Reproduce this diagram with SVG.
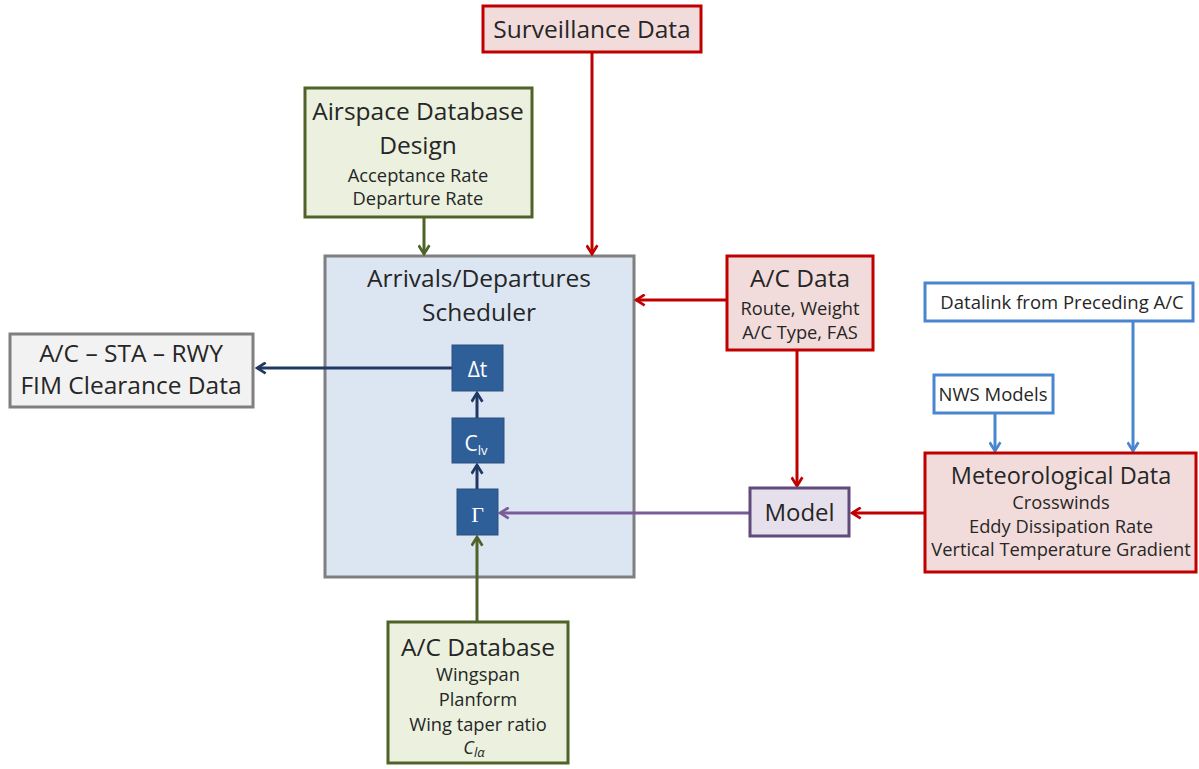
<svg xmlns="http://www.w3.org/2000/svg" width="1199" height="769" viewBox="0 0 1199 769">
<defs>
<style>
text{font-family:"Open Sans","Lato","Liberation Sans",sans-serif;fill:#262626;text-anchor:middle}
.big{font-size:24.5px}
.sm{font-size:18.3px}
.xs{font-size:18.5px}
.green{fill:#ebf1de;stroke:#4f6228;stroke-width:3}
.red{fill:#f2dcdb;stroke:#c00000;stroke-width:3}
.blue{fill:#ffffff;stroke:#4a86d0;stroke-width:3}
.gray{fill:#f2f2f2;stroke:#7f7f7f;stroke-width:3}
.sched{fill:#dce6f2;stroke:#7f7f7f;stroke-width:3}
.inner{fill:#2f5f98;stroke:#2a4f80;stroke-width:1}
.model{fill:#e6e0ec;stroke:#5f4a7b;stroke-width:3}
.c{fill:none;stroke-width:3}
</style>
<marker id="aR" viewBox="0 0 12 12" refX="10" refY="6" markerWidth="13" markerHeight="13" markerUnits="userSpaceOnUse" orient="auto"><path d="M2,1 L10,6 L2,11" fill="none" stroke="#c00000" stroke-width="2.5"/></marker>
<marker id="aG" viewBox="0 0 12 12" refX="10" refY="6" markerWidth="13" markerHeight="13" markerUnits="userSpaceOnUse" orient="auto"><path d="M2,1 L10,6 L2,11" fill="none" stroke="#4f6228" stroke-width="2.5"/></marker>
<marker id="aB" viewBox="0 0 12 12" refX="10" refY="6" markerWidth="13" markerHeight="13" markerUnits="userSpaceOnUse" orient="auto"><path d="M2,1 L10,6 L2,11" fill="none" stroke="#4a86d0" stroke-width="2.5"/></marker>
<marker id="aN" viewBox="0 0 12 12" refX="10" refY="6" markerWidth="13" markerHeight="13" markerUnits="userSpaceOnUse" orient="auto"><path d="M2,1 L10,6 L2,11" fill="none" stroke="#1f3864" stroke-width="2.5"/></marker>
<marker id="aP" viewBox="0 0 12 12" refX="10" refY="6" markerWidth="13" markerHeight="13" markerUnits="userSpaceOnUse" orient="auto"><path d="M2,1 L10,6 L2,11" fill="none" stroke="#7a5c9a" stroke-width="2.5"/></marker>
</defs>
<rect width="1199" height="769" fill="#ffffff"/>

<g id="scheduler">
<rect class="sched" x="325" y="256" width="309" height="321"/>
<text class="big" x="479" y="287">Arrivals/Departures</text>
<text class="big" x="479" y="321">Scheduler</text>
</g>

<g id="connectors">
<line class="c" stroke="#c00000" x1="592" y1="52" x2="592" y2="254" marker-end="url(#aR)"/>
<line class="c" stroke="#4f6228" x1="424" y1="217" x2="424" y2="254" marker-end="url(#aG)"/>
<line class="c" stroke="#c00000" x1="727" y1="300" x2="636" y2="300" marker-end="url(#aR)"/>
<line class="c" stroke="#c00000" x1="797" y1="350" x2="797" y2="486" marker-end="url(#aR)"/>
<line class="c" stroke="#c00000" x1="925" y1="513" x2="852" y2="513" marker-end="url(#aR)"/>
<line class="c" stroke="#7a5c9a" x1="750" y1="513" x2="500" y2="513" marker-end="url(#aP)"/>
<line class="c" stroke="#4f6228" x1="477" y1="621" x2="477" y2="537" marker-end="url(#aG)"/>
<line class="c" stroke="#1f3864" x1="477" y1="489" x2="477" y2="465" marker-end="url(#aN)"/>
<line class="c" stroke="#1f3864" x1="477" y1="418" x2="477" y2="393" marker-end="url(#aN)"/>
<line class="c" stroke="#1f3864" x1="452" y1="368" x2="257" y2="368" marker-end="url(#aN)"/>
<line class="c" stroke="#4a86d0" x1="995" y1="413" x2="995" y2="451" marker-end="url(#aB)"/>
<line class="c" stroke="#4a86d0" x1="1133" y1="320" x2="1133" y2="451" marker-end="url(#aB)"/>
</g>

<g id="dt">
<rect class="inner" x="452" y="345" width="51" height="46"/>
<text x="477.5" y="377" style="font-size:21px;fill:#ffffff">Δt</text>
</g>
<g id="clv">
<rect class="inner" x="452" y="418" width="52" height="45"/>
<text x="476" y="451" style="font-size:21px;fill:#ffffff">C<tspan style="font-size:13px" dy="4">lv</tspan></text>
</g>
<g id="gamma">
<rect class="inner" x="457" y="489" width="41" height="46"/>
<text x="477.5" y="522" style="font-size:22px;fill:#ffffff;font-family:'Liberation Serif',serif">Γ</text>
</g>

<g id="surveillance">
<rect class="red" x="483" y="6" width="218" height="46"/>
<text class="big" x="592" y="38">Surveillance  Data</text>
</g>

<g id="airspace">
<rect class="green" x="305" y="88" width="227" height="129"/>
<text class="big" x="418" y="120">Airspace Database</text>
<text class="big" x="418" y="154">Design</text>
<text class="sm" x="418" y="182">Acceptance Rate</text>
<text class="sm" x="418" y="205">Departure Rate</text>
</g>

<g id="fim">
<rect class="gray" x="10" y="334" width="243" height="73"/>
<text class="big" x="131" y="362">A/C – STA – RWY</text>
<text class="big" x="131" y="394">FIM Clearance  Data</text>
</g>

<g id="acdata">
<rect class="red" x="727" y="256" width="146" height="94"/>
<text class="big" x="800" y="287">A/C Data</text>
<text class="sm" x="800" y="315">Route, Weight</text>
<text class="sm" x="800" y="339">A/C Type, FAS</text>
</g>

<g id="model">
<rect class="model" x="750" y="488" width="99" height="48"/>
<text x="799.5" y="521" style="font-size:24px">Model</text>
</g>

<g id="datalink">
<rect class="blue" x="925" y="283" width="268" height="38"/>
<text class="xs" x="1062" y="309">Datalink from  Preceding A/C</text>
</g>

<g id="nws">
<rect class="blue" x="934" y="375" width="119" height="38"/>
<text class="xs" x="993" y="401">NWS Models</text>
</g>

<g id="met">
<rect class="red" x="925" y="453" width="271" height="119"/>
<text x="1061" y="484" style="font-size:23.5px">Meteorological  Data</text>
<text class="sm" x="1061" y="509">Crosswinds</text>
<text class="sm" x="1061" y="533">Eddy Dissipation Rate</text>
<text class="sm" x="1061" y="556">Vertical Temperature  Gradient</text>
</g>

<g id="acdb">
<rect class="green" x="388" y="622" width="180" height="141"/>
<text class="big" x="478" y="656">A/C Database</text>
<text class="sm" x="478" y="681">Wingspan</text>
<text class="sm" x="478" y="706">Planform</text>
<text class="sm" x="478" y="731">Wing taper ratio</text>
<text x="474" y="754" style="font-size:18px;font-style:italic">C<tspan style="font-size:13px" dy="3">lα</tspan></text>
</g>
</svg>
